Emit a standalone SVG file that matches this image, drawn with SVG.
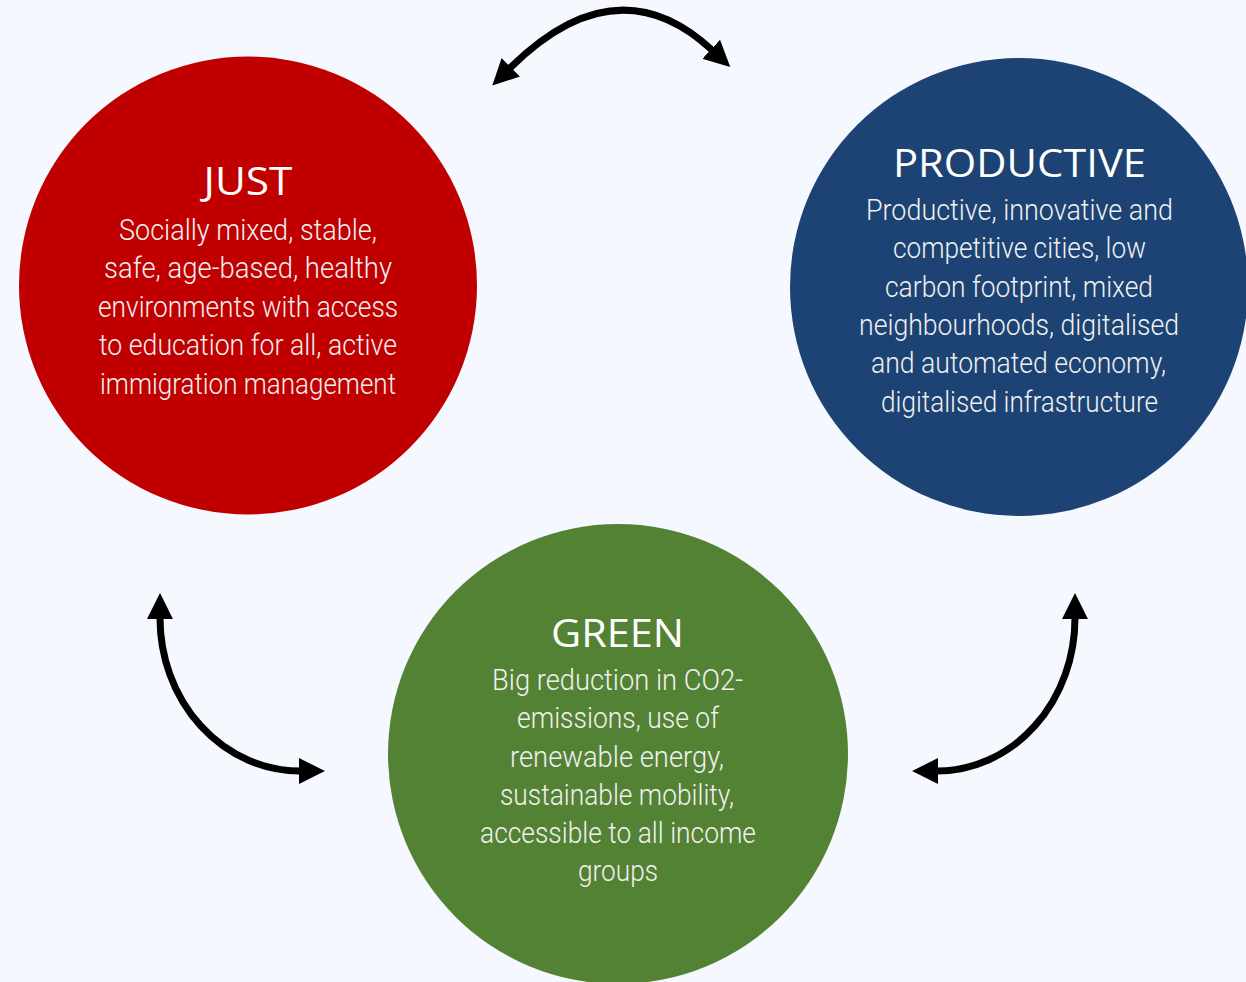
<svg xmlns="http://www.w3.org/2000/svg" width="1246" height="982" viewBox="0 0 1246 982">
<defs>
<style>
.title{font-family:"Open Sans","Liberation Sans",sans-serif;font-size:38px;fill:#ffffff;text-anchor:middle}
.body{font-family:"Liberation Sans Narrow","Roboto","Liberation Sans",sans-serif;font-weight:300;font-size:29px;fill:#f0f0f0;text-anchor:middle}
.conn{fill:none;stroke:#000;stroke-width:7;marker-start:url(#ah);marker-end:url(#ah)}
</style>
<marker id="ah" markerUnits="userSpaceOnUse" markerWidth="26" markerHeight="26" viewBox="0 0 24 24" refX="1" refY="12" orient="auto-start-reverse">
<path d="M0,0 L24,12 L0,24 z" fill="#000"/>
</marker>
</defs>
<rect width="1246" height="982" fill="#f5f8fe"/>
<g id="just">
<circle cx="248" cy="285.5" r="229" fill="#c00000"/>
<text class="title" x="248" y="195" textLength="89" lengthAdjust="spacingAndGlyphs">JUST</text>
<text class="body" x="248" y="240" textLength="258" lengthAdjust="spacingAndGlyphs">Socially mixed, stable,</text>
<text class="body" x="248" y="278" textLength="288" lengthAdjust="spacingAndGlyphs">safe, age-based, healthy</text>
<text class="body" x="248" y="317" textLength="300" lengthAdjust="spacingAndGlyphs">environments with access</text>
<text class="body" x="248" y="355" textLength="298" lengthAdjust="spacingAndGlyphs">to education for all, active</text>
<text class="body" x="248" y="394" textLength="296" lengthAdjust="spacingAndGlyphs">immigration management</text>
</g>
<g id="productive">
<circle cx="1019" cy="287" r="229" fill="#1c4373"/>
<text class="title" x="1019.5" y="177" textLength="253" lengthAdjust="spacingAndGlyphs">PRODUCTIVE</text>
<text class="body" x="1019.5" y="220" textLength="307" lengthAdjust="spacingAndGlyphs">Productive, innovative and</text>
<text class="body" x="1019.5" y="258" textLength="253" lengthAdjust="spacingAndGlyphs">competitive cities, low</text>
<text class="body" x="1019" y="297" textLength="268" lengthAdjust="spacingAndGlyphs">carbon footprint, mixed</text>
<text class="body" x="1019" y="335" textLength="320" lengthAdjust="spacingAndGlyphs">neighbourhoods, digitalised</text>
<text class="body" x="1018.5" y="373" textLength="295" lengthAdjust="spacingAndGlyphs">and automated economy,</text>
<text class="body" x="1019.5" y="412" textLength="277" lengthAdjust="spacingAndGlyphs">digitalised infrastructure</text>
</g>
<g id="green">
<circle cx="618" cy="754" r="230" fill="#548235"/>
<text class="title" x="617.5" y="647" textLength="133" lengthAdjust="spacingAndGlyphs">GREEN</text>
<text class="body" x="617.5" y="690" textLength="251" lengthAdjust="spacingAndGlyphs">Big reduction in CO2-</text>
<text class="body" x="618" y="728" textLength="202" lengthAdjust="spacingAndGlyphs">emissions, use of</text>
<text class="body" x="617" y="767" textLength="214" lengthAdjust="spacingAndGlyphs">renewable energy,</text>
<text class="body" x="617" y="805" textLength="234" lengthAdjust="spacingAndGlyphs">sustainable mobility,</text>
<text class="body" x="618" y="843" textLength="276" lengthAdjust="spacingAndGlyphs">accessible to all income</text>
<text class="body" x="618" y="881" textLength="80" lengthAdjust="spacingAndGlyphs">groups</text>
</g>
<g id="connectors">
<path class="conn" d="M510,68 Q617,-38 712,50"/>
<path class="conn" d="M160,618 A140 153 0 0 0 300,771"/>
<path class="conn" d="M1075,618 A138 153 0 0 1 937,771"/>
</g>
</svg>
